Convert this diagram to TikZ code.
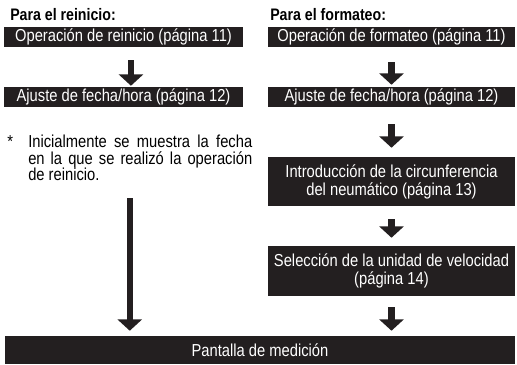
\documentclass[tikz,border=0pt]{standalone}
\usepackage{fontspec}
\setmainfont{Liberation Sans}[FakeStretch=0.85]
\usepackage{xcolor}
\definecolor{negro}{RGB}{35,31,32}
\usetikzlibrary{arrows.meta,calc}

\begin{document}
\begin{tikzpicture}[x=0.75pt,y=-0.75pt,
  caja/.style={fill=negro,text=white,inner sep=0pt,align=center,font=\fontsize{13}{13.5}\selectfont},
  titulo/.style={inner sep=0pt,anchor=base west,font=\bfseries\fontsize{12.5}{13.5}\selectfont},
  flecha/.style={negro,line width=4.8pt,-{Triangle[width=18pt,length=8.5pt]}}]
  \useasboundingbox (0,0) rectangle (517,364);
  \node[titulo] (treinicio) at (10,21) {Para el reinicio:};
  \node[titulo] (tformateo) at (270,21) {Para el formateo:};
  \node[caja,minimum width=179.25pt,minimum height=15pt] (l1) at (123.5,37) {Operación de reinicio (página 11)};
  \node[caja,minimum width=179.25pt,minimum height=15pt] (l2) at (123.5,97) {Ajuste de fecha/hora (página 12)};
  \node[anchor=north west,inner sep=0pt] (nota) at (7,135)
    {\parbox[t]{183.75pt}{\fontsize{13}{12.4}\selectfont\hyphenpenalty=10000\exhyphenpenalty=10000
     \hangindent=15.75pt\hangafter=1\noindent\makebox[15.75pt][l]{*}Inicialmente se muestra la fecha\linebreak en la que se realizó la operación\linebreak de reinicio.}};
  \node[caja,minimum width=185.25pt,minimum height=15pt] (r1) at (391.5,37) {Operación de formateo (página 11)};
  \node[caja,minimum width=185.25pt,minimum height=15pt] (r2) at (391.5,97) {Ajuste de fecha/hora (página 12)};
  \node[caja,minimum width=185.25pt,minimum height=36.75pt] (r3) at (391.5,181.5) {Introducción de la circunferencia\\del neumático (página 13)};
  \node[caja,minimum width=185.25pt,minimum height=37.5pt] (r4) at (391.5,271) {Selección de la unidad de velocidad\\(página 14)};
  \node[caja,minimum width=382.5pt,minimum height=21pt] (fin) at (260,350) {Pantalla de medición};
  \draw[flecha,shorten <=9.75pt,shorten >=0.75pt] ([xshift=5.6pt]l1.south) -- ([xshift=5.6pt]l2.north);
  \draw[flecha,shorten <=12.75pt,shorten >=3.75pt] (nota.south) -- (nota.south |- fin.north);
  \draw[flecha,shorten <=11.25pt,shorten >=1.5pt] (r1) -- (r2);
  \draw[flecha,shorten <=12.75pt,shorten >=6.75pt] (r2) -- (r3);
  \draw[flecha,shorten <=9.75pt,shorten >=6pt] (r3) -- (r4);
  \draw[flecha,shorten <=8.25pt,shorten >=3.75pt] (r4.south) -- (r4.south |- fin.north);
\end{tikzpicture}
\end{document}
